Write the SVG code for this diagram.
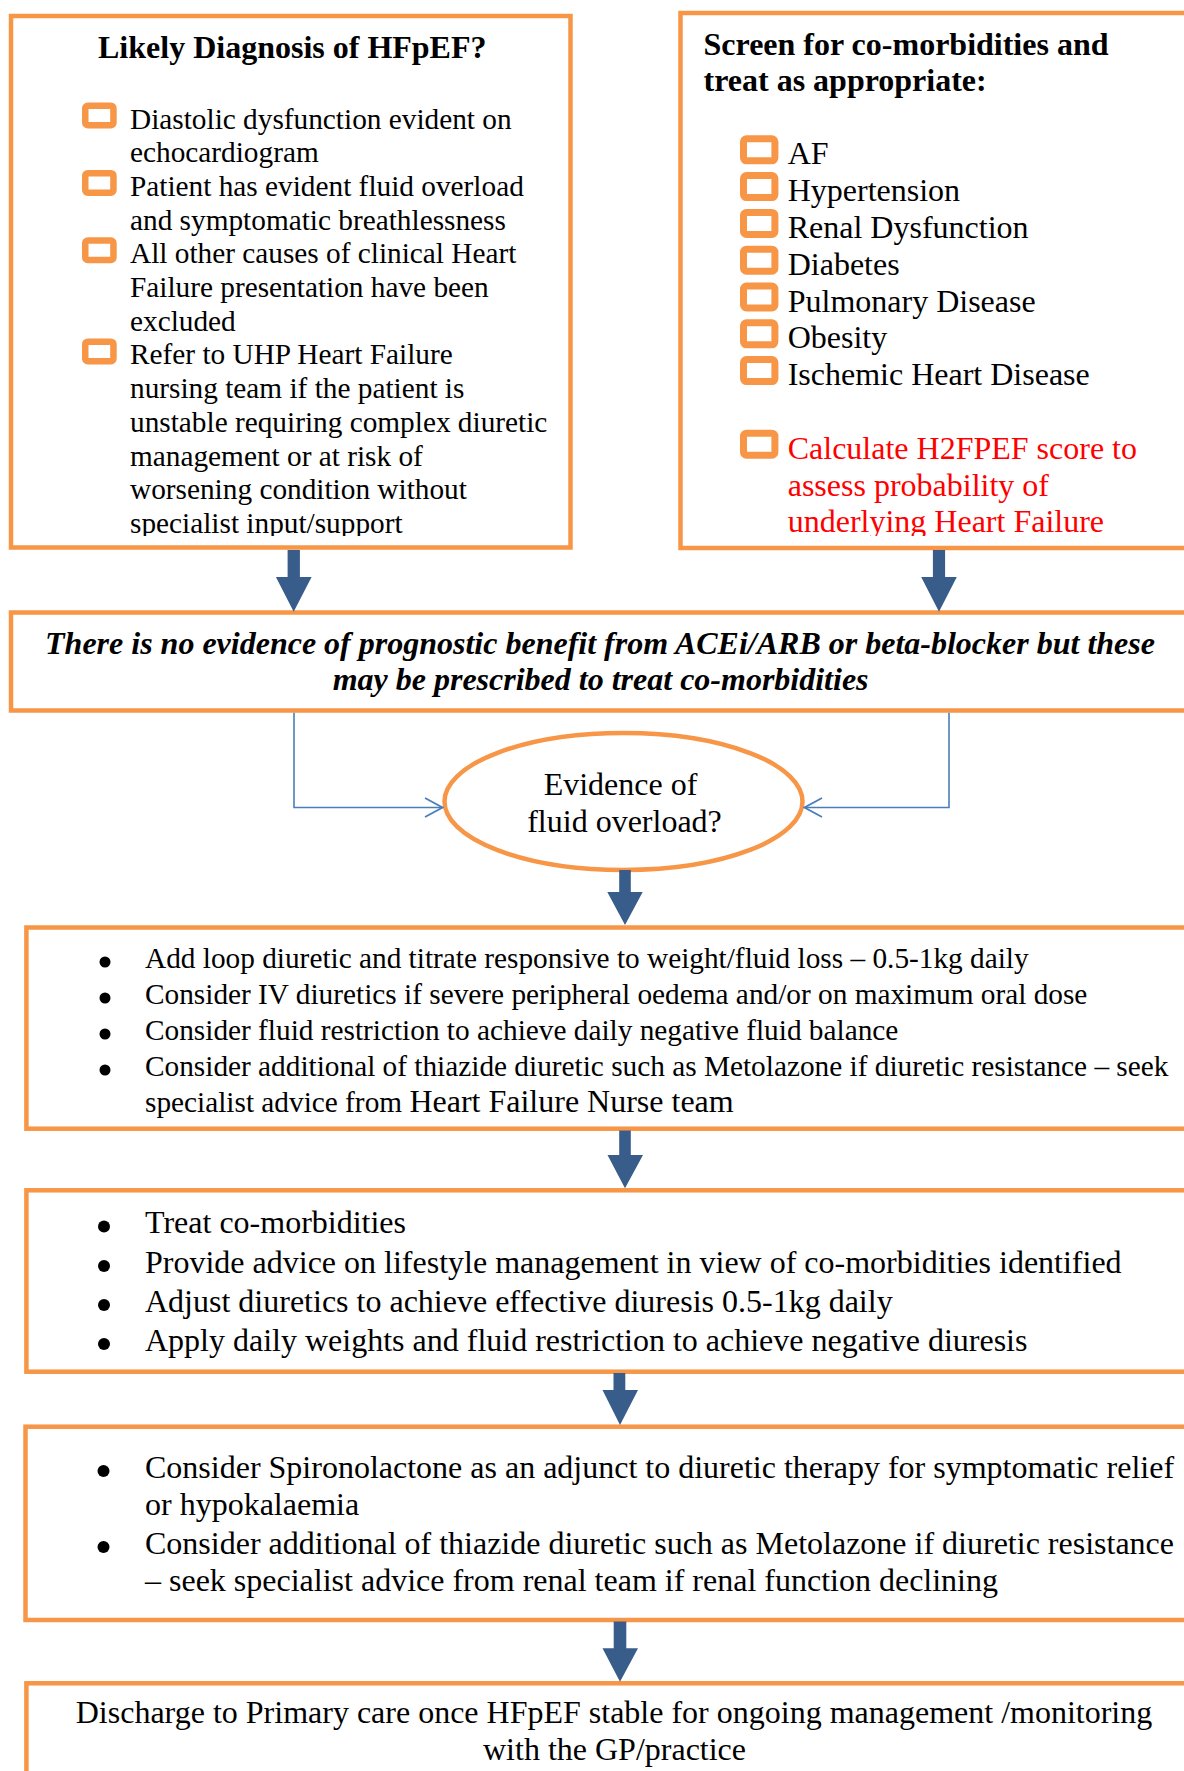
<svg xmlns="http://www.w3.org/2000/svg" width="1184" height="1771" viewBox="0 0 1184 1771">
<style>
.box{fill:#fff;stroke:#F79646;stroke-width:4.5}
.cb1{fill:none;stroke:#F79646;stroke-width:6.5}
.cb2{fill:none;stroke:#F79646;stroke-width:7}
.t{font-family:"Liberation Serif","Times New Roman",serif;fill:#000}
.b{font-weight:bold}
.s29{font-size:29.3px}
.s32{font-size:32px}
.red{fill:#FF0000}
.blk{fill:#385D8A}
.thin{fill:none;stroke:#4A7EBB;stroke-width:1.6}
.dot{fill:#000}
</style>
<defs>
<marker id="chev" markerUnits="userSpaceOnUse" viewBox="0 0 20 22" markerWidth="20" markerHeight="22" refX="18.5" refY="11" orient="auto">
<path d="M1,1.5 L18.5,11 L1,20.5" fill="none" stroke="#4A7EBB" stroke-width="1.8"/>
</marker>
<clipPath id="clipTop"><rect x="0" y="0" width="1184" height="536"/></clipPath>
</defs>

<g id="box-diagnosis">
<rect class="box" x="11" y="16" width="559.5" height="531.5"/>
<text class="t b s32" x="98" y="58">Likely Diagnosis of HFpEF?</text>
<rect class="cb1" x="85.25" y="105.75" width="28.2" height="19.5" rx="2.5"/>
<rect class="cb1" x="85.25" y="173.15" width="28.2" height="19.5" rx="2.5"/>
<rect class="cb1" x="85.25" y="240.55" width="28.2" height="19.5" rx="2.5"/>
<rect class="cb1" x="85.25" y="341.65" width="28.2" height="19.5" rx="2.5"/>
<g clip-path="url(#clipTop)">
<text class="t s29" x="130">
<tspan x="130" y="128.5">Diastolic dysfunction evident on</tspan>
<tspan x="130" y="162.2">echocardiogram</tspan>
<tspan x="130" y="195.9">Patient has evident fluid overload</tspan>
<tspan x="130" y="229.6">and symptomatic breathlessness</tspan>
<tspan x="130" y="263.3">All other causes of clinical Heart</tspan>
<tspan x="130" y="297">Failure presentation have been</tspan>
<tspan x="130" y="330.7">excluded</tspan>
<tspan x="130" y="364.4">Refer to UHP Heart Failure</tspan>
<tspan x="130" y="398.1">nursing team if the patient is</tspan>
<tspan x="130" y="431.8">unstable requiring complex diuretic</tspan>
<tspan x="130" y="465.5">management or at risk of</tspan>
<tspan x="130" y="499.2">worsening condition without</tspan>
<tspan x="130" y="532.9">specialist input/support</tspan>
</text>
</g>
</g>

<g id="box-screen">
<rect class="box" x="680.5" y="13" width="520" height="535"/>
<text class="t b s32">
<tspan x="703.5" y="55.3">Screen for co-morbidities and</tspan>
<tspan x="703.5" y="91">treat as appropriate:</tspan>
</text>
<rect class="cb2" x="743.5" y="138.8" width="31.4" height="22" rx="3"/>
<rect class="cb2" x="743.5" y="175.6" width="31.4" height="22" rx="3"/>
<rect class="cb2" x="743.5" y="212.4" width="31.4" height="22" rx="3"/>
<rect class="cb2" x="743.5" y="249.2" width="31.4" height="22" rx="3"/>
<rect class="cb2" x="743.5" y="286" width="31.4" height="22" rx="3"/>
<rect class="cb2" x="743.5" y="322.8" width="31.4" height="22" rx="3"/>
<rect class="cb2" x="743.5" y="359.6" width="31.4" height="22" rx="3"/>
<rect class="cb2" x="743.5" y="433.2" width="31.4" height="22" rx="3"/>
<g clip-path="url(#clipTop)">
<text class="t s32">
<tspan x="787.7" y="164.3">AF</tspan>
<tspan x="787.7" y="201.1">Hypertension</tspan>
<tspan x="787.7" y="237.9">Renal Dysfunction</tspan>
<tspan x="787.7" y="274.7">Diabetes</tspan>
<tspan x="787.7" y="311.5">Pulmonary Disease</tspan>
<tspan x="787.7" y="348.3">Obesity</tspan>
<tspan x="787.7" y="385.1">Ischemic Heart Disease</tspan>
</text>
<text class="t s32 red">
<tspan x="787.7" y="458.7">Calculate H2FPEF score to</tspan>
<tspan x="787.7" y="495.5">assess probability of</tspan>
<tspan x="787.7" y="532.3">underlying Heart Failure</tspan>
</text>
</g>
</g>

<g id="box-evidence">
<rect class="box" x="11" y="612.5" width="1190" height="98"/>
<text class="t b s32" font-style="italic" text-anchor="middle">
<tspan x="604" y="653.5">There is no evidence of prognostic benefit from ACEi/ARB or beta-blocker but these</tspan>
<tspan x="600.6" y="690">may be prescribed to treat co-morbidities</tspan>
</text>
</g>

<g id="decision-fluid">
<ellipse cx="623.5" cy="801.5" rx="179" ry="68.5" fill="#fff" stroke="#F79646" stroke-width="4.5"/>
<text class="t s32" text-anchor="middle">
<tspan x="624.5" y="795">Evidence of</tspan>
<tspan x="624.5" y="832">fluid overload?</tspan>
</text>
</g>

<g id="box-diuretic">
<rect class="box" x="26.4" y="927.5" width="1175" height="201.2"/>
<circle class="dot" cx="105" cy="962" r="5.5"/>
<circle class="dot" cx="105" cy="998" r="5.5"/>
<circle class="dot" cx="105" cy="1034" r="5.5"/>
<circle class="dot" cx="105" cy="1070" r="5.5"/>
<text class="t s29">
<tspan x="145" y="968">Add loop diuretic and titrate responsive to weight/fluid loss – 0.5-1kg daily</tspan>
<tspan x="145" y="1004">Consider IV diuretics if severe peripheral oedema and/or on maximum oral dose</tspan>
<tspan x="145" y="1040">Consider fluid restriction to achieve daily negative fluid balance</tspan>
<tspan x="145" y="1076">Consider additional of thiazide diuretic such as Metolazone if diuretic resistance – seek</tspan>
<tspan x="145" y="1112">specialist advice from <tspan class="s32">Heart Failure Nurse team</tspan></tspan>
</text>
</g>

<g id="box-comorbid">
<rect class="box" x="26.4" y="1190.3" width="1175" height="181.4"/>
<circle class="dot" cx="104" cy="1226.5" r="6"/>
<circle class="dot" cx="104" cy="1266" r="6"/>
<circle class="dot" cx="104" cy="1305" r="6"/>
<circle class="dot" cx="104" cy="1344" r="6"/>
<text class="t s32">
<tspan x="145" y="1233">Treat co-morbidities</tspan>
<tspan x="145" y="1272.5">Provide advice on lifestyle management in view of co-morbidities identified</tspan>
<tspan x="145" y="1311.5">Adjust diuretics to achieve effective diuresis 0.5-1kg daily</tspan>
<tspan x="145" y="1350.5">Apply daily weights and fluid restriction to achieve negative diuresis</tspan>
</text>
</g>

<g id="box-spironolactone">
<rect class="box" x="25.5" y="1426.7" width="1175" height="193.3"/>
<circle class="dot" cx="103.5" cy="1471" r="6"/>
<circle class="dot" cx="103.5" cy="1547" r="6"/>
<text class="t s32">
<tspan x="145" y="1477.5">Consider Spironolactone as an adjunct to diuretic therapy for symptomatic relief</tspan>
<tspan x="145" y="1515">or hypokalaemia</tspan>
<tspan x="145" y="1553.5">Consider additional of thiazide diuretic such as Metolazone if diuretic resistance</tspan>
<tspan x="145" y="1591">– seek specialist advice from renal team if renal function declining</tspan>
</text>
</g>

<g id="box-discharge">
<rect class="box" x="26.4" y="1683.3" width="1175" height="120"/>
<text class="t s32" text-anchor="middle">
<tspan x="618" y="1723">Discharge to Primary care once HFpEF stable for ongoing management /monitoring</tspan>
<tspan x="614.5" y="1760">with the GP/practice</tspan>
</text>
</g>

<g id="connectors">
<path class="blk" d="M287.6,550 H299.9 V577 H311.6 L293.7,611.7 L275.9,577 H287.6 Z"/>
<path class="blk" d="M932.9,550 H945.1 V577 H956.8 L939,611.7 L921.2,577 H932.9 Z"/>
<path class="blk" d="M619.2,870 H630.8 V892 H642.7 L625,925 L607.3,892 H619.2 Z"/>
<path class="blk" d="M619.2,1130.5 H630.8 V1155 H643 L625,1188.3 L607.5,1155 H619.2 Z"/>
<path class="blk" d="M613.5,1373 H625.3 V1390 H638 L620,1425 L602.5,1390 H613.5 Z"/>
<path class="blk" d="M613.7,1621.5 H626.3 V1648.3 H638 L620,1681.7 L602.5,1648.3 H613.7 Z"/>
<path class="thin" d="M294,712.8 V807.5 H442.5" marker-end="url(#chev)"/>
<path class="thin" d="M949,712.8 V807.5 H804.5" marker-end="url(#chev)"/>
</g>
</svg>
